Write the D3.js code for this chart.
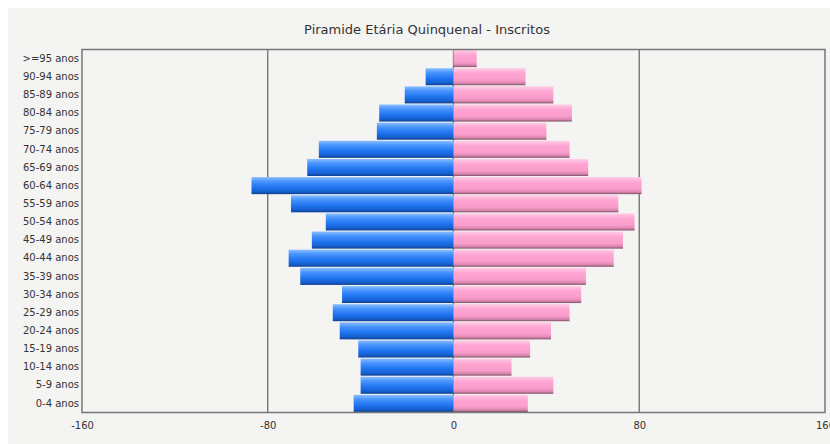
<!DOCTYPE html>
<html>
<head>
<meta charset="utf-8">
<script src="https://cdn.jsdelivr.net/npm/d3@7"></script>
<style>
  body { margin: 0; background: #ffffff; }
  svg { display: block; }
  .axis text { font-family: Tahoma, "DejaVu Sans", sans-serif; font-size: 10px; fill: #333; }
</style>
</head>
<body>
<div id="chart"></div>
<script>
// Age groups, from top to bottom
const categories = [">=95 anos", "90-94 anos", "85-89 anos", "80-84 anos", "75-79 anos",
  "70-74 anos", "65-69 anos", "60-64 anos", "55-59 anos", "50-54 anos", "45-49 anos",
  "40-44 anos", "35-39 anos", "30-34 anos", "25-29 anos", "20-24 anos", "15-19 anos",
  "10-14 anos", "5-9 anos", "0-4 anos"];

// Men (drawn to the left) and women (drawn to the right)
const masculino = [0, 12, 21, 32, 33, 58, 63, 87, 70, 55, 61, 71, 66, 48, 52, 49, 41, 40, 40, 43];
const feminino = [10, 31, 43, 51, 40, 50, 58, 81, 71, 78, 73, 69, 57, 55, 50, 42, 33, 25, 43, 32];

const xTicks = [-160, -80, 0, 80, 160];

document.addEventListener("DOMContentLoaded", function () {
    const width = 830, height = 444;
    const margin = { top: 49.5, right: 5, bottom: 31.5, left: 82 };

    const svg = d3.select("#chart").append("svg")
        .attr("width", width)
        .attr("height", height);

    // Grey panel behind everything
    svg.append("rect")
        .attr("x", 8).attr("y", 8)
        .attr("width", width - 8).attr("height", height - 8)
        .attr("fill", "#f4f4f2");

    // Gradients for the shaded bars
    const defs = svg.append("defs");
    function gradient(id, stops) {
        const g = defs.append("linearGradient")
            .attr("id", id)
            .attr("x1", 0).attr("y1", 0).attr("x2", 0).attr("y2", 1);
        stops.forEach(s => g.append("stop").attr("offset", s[0]).attr("stop-color", s[1]));
    }
    gradient("blueGrad", [[0, "#8cc0ff"], [0.25, "#4a95ff"], [0.6, "#1f74f0"], [0.85, "#1660d0"], [1, "#0c3f8f"]]);
    gradient("pinkGrad", [[0, "#ffcce6"], [0.3, "#ffa5d2"], [0.7, "#f99ccb"], [0.88, "#d886ad"], [1, "#7f4f68"]]);

    const x = d3.scaleLinear()
        .domain([-160, 160])
        .range([margin.left, width - margin.right]);

    const y = d3.scaleBand()
        .domain(categories)
        .range([margin.top, height - margin.bottom])
        .paddingInner(0.06)
        .paddingOuter(0.03);

    // Title
    svg.append("text")
        .attr("x", 427)
        .attr("y", 34)
        .attr("text-anchor", "middle")
        .style("font-family", "Tahoma, 'DejaVu Sans', sans-serif")
        .style("font-size", "13px")
        .attr("fill", "#333")
        .text("Piramide Etária Quinquenal - Inscritos");

    // Vertical grid lines
    svg.append("g")
        .selectAll("line")
        .data(xTicks.slice(1, -1))
        .join("line")
        .attr("x1", d => x(d)).attr("x2", d => x(d))
        .attr("y1", margin.top).attr("y2", height - margin.bottom)
        .attr("stroke", "#6e6e6e")
        .attr("stroke-width", 1.3);

    // Men bars
    svg.append("g")
        .selectAll("rect")
        .data(categories)
        .join("rect")
        .attr("x", (d, i) => x(-masculino[i]))
        .attr("y", d => y(d))
        .attr("width", (d, i) => x(0) - x(-masculino[i]))
        .attr("height", y.bandwidth())
        .attr("fill", "url(#blueGrad)");

    // Women bars
    svg.append("g")
        .selectAll("rect")
        .data(categories)
        .join("rect")
        .attr("x", x(0))
        .attr("y", d => y(d))
        .attr("width", (d, i) => x(feminino[i]) - x(0))
        .attr("height", y.bandwidth())
        .attr("fill", "url(#pinkGrad)");

    // Plot frame
    svg.append("rect")
        .attr("x", margin.left)
        .attr("y", margin.top)
        .attr("width", width - margin.right - margin.left)
        .attr("height", height - margin.bottom - margin.top)
        .attr("fill", "none")
        .attr("stroke", "#777")
        .attr("stroke-width", 1.5);

    // Axes (plain hyphen for negative numbers, as in the original)
    const xAxis = svg.append("g")
        .attr("class", "axis")
        .attr("transform", `translate(0,${height - margin.bottom})`)
        .call(d3.axisBottom(x).tickValues(xTicks).tickFormat(d => String(d)).tickSize(0).tickPadding(9));
    xAxis.select(".domain").remove();

    const yAxis = svg.append("g")
        .attr("class", "axis")
        .attr("transform", `translate(${margin.left},0)`)
        .call(d3.axisLeft(y).tickSize(0).tickPadding(3));
    yAxis.select(".domain").remove();
});
</script>
</body>
</html>
